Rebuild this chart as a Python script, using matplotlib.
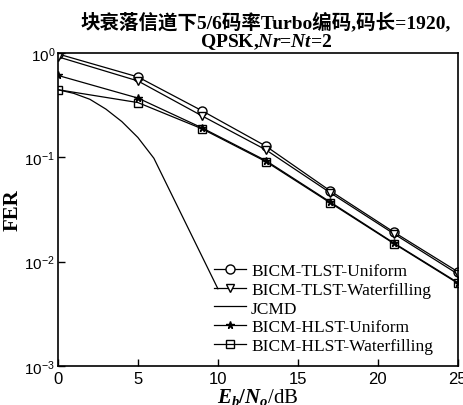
import math
import matplotlib
matplotlib.use('Agg')
import matplotlib.pyplot as plt
from matplotlib.ticker import FixedLocator, FuncFormatter, NullLocator

plt.rcParams['mathtext.fontset'] = 'custom'
plt.rcParams['mathtext.rm'] = 'Liberation Serif:bold'
plt.rcParams['mathtext.it'] = 'Liberation Serif:italic:bold'
plt.rcParams['mathtext.sf'] = 'Liberation Sans'

snr = [0, 5, 9, 13, 17, 21, 25]
tlst_uniform = [0.98, 0.59, 0.28, 0.128, 0.048, 0.0192, 0.0080]
tlst_water = [0.92, 0.54, 0.25, 0.118, 0.046, 0.0185, 0.0076]
hlst_uniform = [0.61, 0.37, 0.192, 0.093, 0.0375, 0.0151, 0.0063]
hlst_water = [0.445, 0.335, 0.188, 0.091, 0.0368, 0.0149, 0.0062]
jcmd_snr = [0, 1, 2, 3, 4, 5, 6, 10]
jcmd = [0.445, 0.41, 0.36, 0.29, 0.22, 0.155, 0.098, 0.0055]

fig = plt.figure(figsize=(4.63, 4.06), dpi=100)
ax = fig.add_axes([0.125, 0.096, 0.864, 0.771])

lw = 0.9
ax.semilogy(snr, tlst_uniform, 'k-', marker='o', mfc='white', ms=6.5, lw=lw, label='BICM-TLST-Uniform')
ax.semilogy(snr, tlst_water, 'k-', marker='v', mfc='white', ms=5.5, lw=lw, label='BICM-TLST-Waterfilling')
ax.semilogy(jcmd_snr, jcmd, 'k-', lw=lw, label='JCMD')
ax.semilogy(snr, hlst_uniform, 'k-', marker='*', ms=5.5, lw=lw, label='BICM-HLST-Uniform')
ax.semilogy(snr, hlst_water, 'k-', marker='s', mfc='none', ms=6, lw=lw, label='BICM-HLST-Waterfilling')

ax.set_xlim(0, 25)
ax.set_ylim(1e-3, 1)
ax.xaxis.set_major_locator(FixedLocator([0, 5, 10, 15, 20, 25]))
ax.yaxis.set_major_locator(FixedLocator([1e-3, 1e-2, 1e-1, 1]))
ax.yaxis.set_minor_locator(NullLocator())
ax.yaxis.set_major_formatter(FuncFormatter(lambda v, p: r'$\mathsf{10^{%d}}$' % round(math.log10(v))))
ax.tick_params(direction='in', length=5, width=1, labelsize=12)
ax.tick_params(axis='y', labelsize=11, pad=2)
for lab in ax.get_xticklabels():
    lab.set_family('Liberation Sans')
for s in ax.spines.values():
    s.set_linewidth(1.2)

ax.set_xlabel(r'$E_b/N_o$/dB', fontsize=15, family='Liberation Serif', labelpad=0)
ax.set_ylabel('FER', fontsize=15, family='Liberation Serif', fontweight='bold', labelpad=1)
ax.set_title('块衰落信道下5/6码率Turbo编码,码长=1920,\nQPSK,$Nr$=$Nt$=2',
             family=['Liberation Serif', 'Noto Sans CJK SC'], fontweight='bold',
             fontsize=14, linespacing=1.0, pad=5, x=0.52)

ax.legend(loc='lower right', frameon=False, prop={'family': 'Liberation Serif', 'size': 12.5},
          handlelength=1.85, handletextpad=0.3, labelspacing=0.16, borderaxespad=0.0,
          bbox_to_anchor=(0.955, 0.015))

fig.savefig('out.png', dpi=100)
